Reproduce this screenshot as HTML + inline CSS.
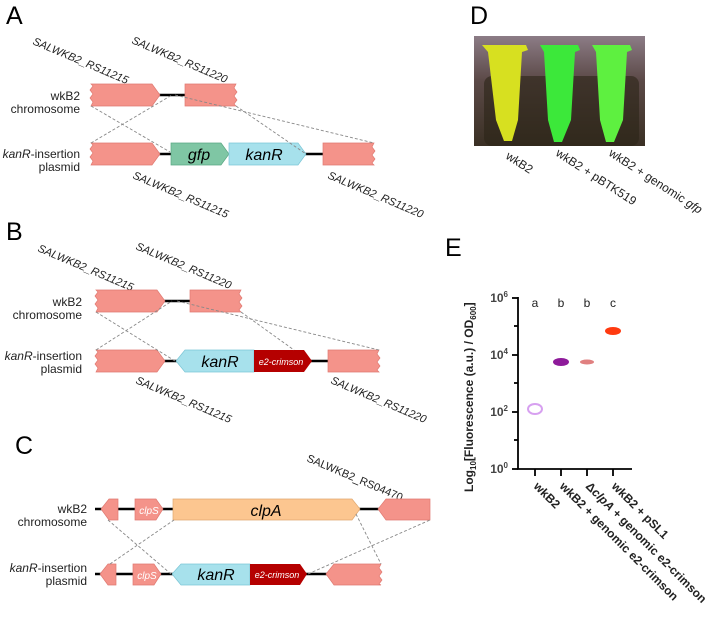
<!DOCTYPE html>
<html><head><meta charset="utf-8"><style>
html,body{margin:0;padding:0;background:#fff;}
svg{display:block;font-family:"Liberation Sans",Arial,sans-serif;}
</style></head><body>
<svg width="720" height="617" viewBox="0 0 720 617" xmlns="http://www.w3.org/2000/svg">
<defs>
<linearGradient id="bg" x1="0" y1="0" x2="0" y2="1"><stop offset="0" stop-color="#8c7c86"/><stop offset="0.4" stop-color="#5c4a48"/><stop offset="1" stop-color="#3a3024"/></linearGradient>
</defs>
<g font-size="25" fill="#000">
<text x="6" y="24">A</text><text x="6" y="240">B</text><text x="15" y="454">C</text><text x="470" y="24">D</text><text x="445" y="256">E</text>
</g>

<!-- ===== Panel A ===== -->
<g font-size="11" font-style="italic" fill="#222">
<text transform="translate(32,44) rotate(23)">SALWKB2_RS11215</text>
<text transform="translate(131,43) rotate(23)">SALWKB2_RS11220</text>
<text transform="translate(132,178) rotate(23)">SALWKB2_RS11215</text>
<text transform="translate(327,178) rotate(23)">SALWKB2_RS11220</text>
</g>
<g font-size="12" fill="#222" text-anchor="end">
<text x="80" y="100">wkB2</text><text x="80" y="113">chromosome</text>
<text x="80" y="158"><tspan font-style="italic">kanR</tspan>-insertion</text><text x="80" y="171">plasmid</text>
</g>
<g stroke="#000" stroke-width="2.5"><line x1="158" y1="95" x2="186" y2="95"/><line x1="158" y1="154" x2="172" y2="154"/><line x1="305" y1="154" x2="323" y2="154"/></g>
<g fill="#f4938a" stroke="#e07a72" stroke-width="0.7">
<polygon points="91,84 152,84 160,95 152,106 91,106 93,102 90,98 93,94 90,90 93,86"/>
<polygon points="185,84 236,84 234,88 237,92 234,96 237,100 234,104 236,106 185,106"/>
<polygon points="91,143 152,143 160,154 152,165 91,165 93,161 90,157 93,153 90,149 93,145"/>
<polygon points="323,143 374,143 372,147 375,151 372,155 375,159 372,163 374,165 323,165"/>
</g>
<polygon points="171,143 221,143 229,154 221,165 171,165" fill="#7fc6a4" stroke="#5aa883" stroke-width="0.7"/>
<polygon points="229,143 298,143 306,154 298,165 229,165" fill="#a7e1ec" stroke="#7cc6d6" stroke-width="0.7"/>
<text x="199" y="160" font-size="16" font-style="italic" text-anchor="middle">gfp</text>
<text x="264" y="160" font-size="16" font-style="italic" text-anchor="middle">kanR</text>
<g stroke="#888" stroke-width="0.9" stroke-dasharray="3,2" fill="none">
<line x1="91" y1="106" x2="170" y2="152"/><line x1="91" y1="143" x2="172" y2="95"/>
<line x1="236" y1="106" x2="306" y2="154"/><line x1="175" y1="95" x2="374" y2="143"/>
</g>

<!-- ===== Panel B ===== -->
<g font-size="11" font-style="italic" fill="#222">
<text transform="translate(37,251) rotate(23)">SALWKB2_RS11215</text>
<text transform="translate(135,249) rotate(23)">SALWKB2_RS11220</text>
<text transform="translate(135,383) rotate(23)">SALWKB2_RS11215</text>
<text transform="translate(330,383) rotate(23)">SALWKB2_RS11220</text>
</g>
<g font-size="12" fill="#222" text-anchor="end">
<text x="82" y="306">wkB2</text><text x="82" y="319">chromosome</text>
<text x="82" y="360"><tspan font-style="italic">kanR</tspan>-insertion</text><text x="82" y="373">plasmid</text>
</g>
<g stroke="#000" stroke-width="2.5"><line x1="163" y1="301" x2="191" y2="301"/><line x1="163" y1="361" x2="177" y2="361"/><line x1="310" y1="361" x2="328" y2="361"/></g>
<g fill="#f4938a" stroke="#e07a72" stroke-width="0.7">
<polygon points="96,290 157,290 165,301 157,312 96,312 98,308 95,304 98,300 95,296 98,292"/>
<polygon points="190,290 241,290 239,294 242,298 239,302 242,306 239,310 241,312 190,312"/>
<polygon points="96,350 157,350 165,361 157,372 96,372 98,368 95,364 98,360 95,356 98,352"/>
<polygon points="328,350 379,350 377,354 380,358 377,362 380,366 377,370 379,372 328,372"/>
</g>
<polygon points="185,350 254,350 254,372 185,372 176,361" fill="#a7e1ec" stroke="#7cc6d6" stroke-width="0.7"/>
<polygon points="254,350 304,350 312,361 304,372 254,372" fill="#b50000"/>
<text x="220" y="367" font-size="16" font-style="italic" text-anchor="middle">kanR</text>
<text x="281" y="365" font-size="9" font-style="italic" fill="#fff" text-anchor="middle">e2-crimson</text>
<g stroke="#888" stroke-width="0.9" stroke-dasharray="3,2" fill="none">
<line x1="96" y1="312" x2="175" y2="361"/><line x1="96" y1="350" x2="172" y2="301"/>
<line x1="241" y1="312" x2="294" y2="350"/><line x1="177" y1="301" x2="379" y2="350"/>
</g>

<!-- ===== Panel C ===== -->
<text transform="translate(306,461) rotate(23)" font-size="11" fill="#222">SALWKB2_RS04470</text>
<g font-size="12" fill="#222" text-anchor="end">
<text x="87" y="513">wkB2</text><text x="87" y="526">chromosome</text>
<text x="87" y="572"><tspan font-style="italic">kanR</tspan>-insertion</text><text x="87" y="585">plasmid</text>
</g>
<g stroke="#000" stroke-width="2.5"><line x1="95" y1="509" x2="430" y2="509"/><line x1="95" y1="574" x2="330" y2="574"/></g>
<g fill="#f4938a" stroke="#e07a72" stroke-width="0.7">
<polygon points="109,499 118,499 118,520 109,520 101,509"/>
<polygon points="135,499 156,499 163,509 156,520 135,520"/>
<polygon points="386,499 430,499 430,520 386,520 378,509"/>
<polygon points="108,564 116,564 116,585 108,585 100,574"/>
<polygon points="133,564 154,564 161,574 154,585 133,585"/>
<polygon points="334,564 381,564 379,568 382,572 379,576 382,580 379,584 381,585 334,585 326,574"/>
</g>
<text x="149" y="514" font-size="10" font-style="italic" fill="#fff" text-anchor="middle">clpS</text>
<text x="147" y="579" font-size="10" font-style="italic" fill="#fff" text-anchor="middle">clpS</text>
<polygon points="173,499 352,499 360,509 352,520 173,520" fill="#fcc690" stroke="#e0a870" stroke-width="0.7"/>
<text x="266" y="516" font-size="16" font-style="italic" text-anchor="middle">clpA</text>
<polygon points="181,564 250,564 250,585 181,585 172,574" fill="#a7e1ec" stroke="#7cc6d6" stroke-width="0.7"/>
<polygon points="250,564 300,564 307,574 300,585 250,585" fill="#b50000"/>
<text x="216" y="580" font-size="16" font-style="italic" text-anchor="middle">kanR</text>
<text x="277" y="578" font-size="9" font-style="italic" fill="#fff" text-anchor="middle">e2-crimson</text>
<g stroke="#888" stroke-width="0.9" stroke-dasharray="3,2" fill="none">
<line x1="108" y1="520" x2="171" y2="574"/><line x1="110" y1="564" x2="174" y2="520"/>
<line x1="356" y1="514" x2="381" y2="564"/><line x1="308" y1="574" x2="430" y2="520"/>
</g>

<!-- ===== Panel D ===== -->
<rect x="474" y="36" width="171" height="110" fill="url(#bg)"/>
<rect x="484" y="76" width="155" height="70" rx="8" fill="#2c2418" opacity="0.6"/>
<g>
<path d="M482,45 L526,45 L528,50 L522,52 L518,120 L512,141 L504,141 L496,120 L488,52 Z" fill="#d7e020"/>
<path d="M540,45 L578,45 L580,50 L575,52 L571,120 L562,142 L554,142 L548,120 L544,52 Z" fill="#3ce83a"/>
<path d="M592,45 L630,45 L632,50 L627,52 L623,120 L614,142 L606,142 L600,120 L596,52 Z" fill="#5ef040"/>
</g>
<g font-size="12" fill="#222">
<text transform="translate(505,158) rotate(33)">wkB2</text>
<text transform="translate(555,155) rotate(33)">wkB2 + pBTK519</text>
<text transform="translate(608,155) rotate(33)">wkB2 + genomic <tspan font-style="italic">gfp</tspan></text>
</g>

<!-- ===== Panel E ===== -->
<text transform="translate(473,492) rotate(-90)" font-size="12" font-weight="bold" fill="#222">Log<tspan font-size="8" dy="3">10</tspan><tspan dy="-3">[Fluorescence (a.u.) / OD</tspan><tspan font-size="8" dy="3">600</tspan><tspan dy="-3">]</tspan></text>
<g stroke="#000" stroke-width="1.8" fill="none">
<line x1="518" y1="297" x2="518" y2="469"/><line x1="517" y1="469" x2="632" y2="469"/>
<line x1="512" y1="298" x2="518" y2="298"/><line x1="512" y1="355" x2="518" y2="355"/><line x1="512" y1="412" x2="518" y2="412"/><line x1="512" y1="469" x2="518" y2="469"/>
<line x1="514" y1="326" x2="518" y2="326"/><line x1="514" y1="383" x2="518" y2="383"/><line x1="514" y1="440" x2="518" y2="440"/>
<line x1="535" y1="469" x2="535" y2="476"/><line x1="561" y1="469" x2="561" y2="476"/><line x1="587" y1="469" x2="587" y2="476"/><line x1="613" y1="469" x2="613" y2="476"/>
</g>
<g font-size="12" font-weight="bold" fill="#444" text-anchor="end">
<text x="508" y="302">10<tspan font-size="8" dy="-5">6</tspan></text>
<text x="508" y="359">10<tspan font-size="8" dy="-5">4</tspan></text>
<text x="508" y="416">10<tspan font-size="8" dy="-5">2</tspan></text>
<text x="508" y="473">10<tspan font-size="8" dy="-5">0</tspan></text>
</g>
<g font-size="12" fill="#222" text-anchor="middle">
<text x="535" y="307">a</text><text x="561" y="307">b</text><text x="587" y="307">b</text><text x="613" y="307">c</text>
</g>
<ellipse cx="535" cy="409" rx="7" ry="5" fill="none" stroke="#d7a0f0" stroke-width="2"/>
<ellipse cx="561" cy="362" rx="8" ry="4" fill="#8e1a9a"/>
<ellipse cx="587" cy="362" rx="7" ry="2.5" fill="#e08080"/>
<ellipse cx="613" cy="331" rx="8" ry="4" fill="#ff3a10"/>
<g font-size="12" font-weight="bold" fill="#222">
<text transform="translate(533,487) rotate(45)">wkB2</text>
<text transform="translate(559,487) rotate(45)">wkB2 + genomic e2-crimson</text>
<text transform="translate(585,487) rotate(45)">Δ<tspan font-style="italic">clpA</tspan> + genomic e2-crimson</text>
<text transform="translate(611,487) rotate(45)">wkB2 + pSL1</text>
</g>
</svg>
</body></html>
